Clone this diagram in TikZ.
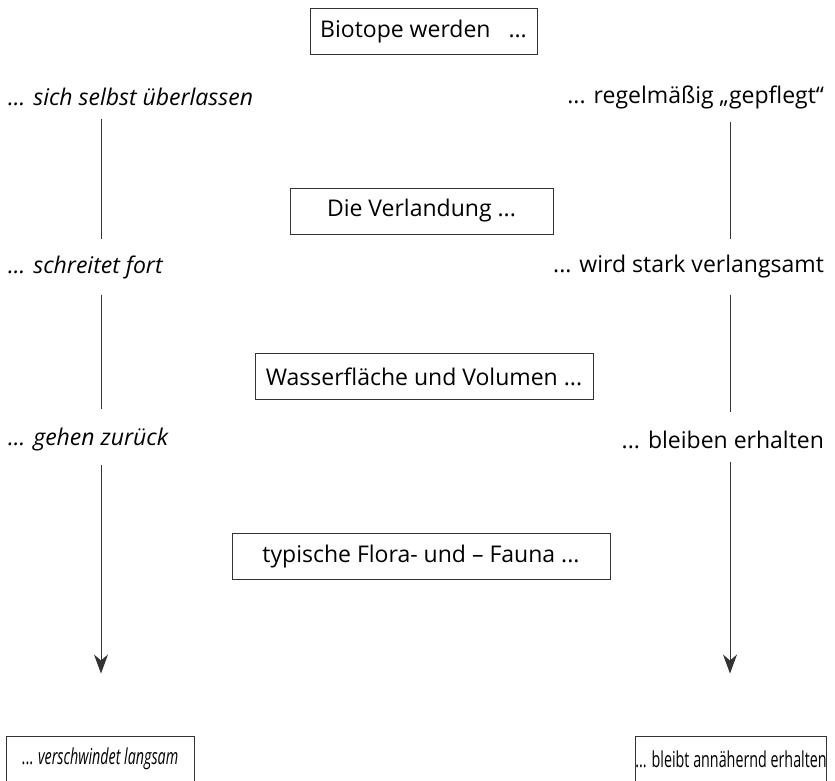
\documentclass[tikz,border=0pt]{standalone}
\usepackage{fontspec}
\setmainfont{Open Sans}
\newfontfamily\schmal[FakeStretch=0.65]{Open Sans}
\usetikzlibrary{arrows.meta}

\begin{document}
\begin{tikzpicture}[x=0.5pt, y=-0.5pt, font=\fontsize{11.5}{14}\selectfont,
    rahmen/.style={draw=black!80, line width=0.5pt, minimum height=23pt, inner xsep=0pt},
    links/.style={anchor=west, font=\fontsize{11.5}{14}\selectfont\itshape},
    rechts/.style={anchor=east},
    linie/.style={draw=black!80, line width=0.5pt},
    pfeil/.style={linie, -{Stealth[length=9.5pt, width=7pt, inset=3pt]}}]

    % Rahmen des ganzen Bildes
    \useasboundingbox (0,0) rectangle (835,781);

    % Achsen der beiden Spalten
    \coordinate (achseL) at (101,0);
    \coordinate (achseR) at (730,0);

    % Die Fragen in der Mitte
    \node[rahmen, minimum width=113.5pt] (biotope) at (423.5,32) {Biotope werden\ \ \ ...};
    \node[rahmen, minimum width=131.5pt] (verlandung) at (421.5,211) {Die Verlandung ...};
    \node[rahmen, minimum width=169pt] (wasser) at (424,376.5) {Wasserfläche und Volumen ...};
    \node[rahmen, minimum width=189pt] (flora) at (421,556.5) {typische Flora- und – Fauna ...};

    % Linke Spalte: sich selbst überlassen
    \node[links] (selbst) at (1,97) {... sich selbst überlassen};
    \node[links] (fort) at (1,267) {... schreitet fort};
    \node[links] (zurueck) at (1,440) {... gehen zurück};
    \node[rahmen, minimum width=94pt, font=\fontsize{11}{14}\schmal] (verschwindet) at (100,759) {... \textit{verschwindet langsam}};

    % Rechte Spalte: regelmäßig gepflegt
    \node[rechts] (gepflegt) at (831,97) {... regelmäßig „gepflegt“};
    \node[rechts] (langsamer) at (831,267) {... wird stark verlangsamt};
    \node[rechts] (erhalten) at (831,440) {... bleiben erhalten};
    \node[rahmen, minimum width=95pt, font=\fontsize{11}{14}\schmal] (bleibt) at (731,759) {... bleibt annähernd erhalten};

    % Verbindungen links
    \draw[linie, shorten <=3pt, shorten >=4.5pt] (selbst.south -| achseL) -- (fort.north -| achseL);
    \draw[linie, shorten <=4.5pt, shorten >=6pt] (fort.south -| achseL) -- (zurueck.north -| achseL);
    \draw[pfeil, shorten <=3pt, shorten >=31pt] (zurueck.south -| achseL) -- (verschwindet.north -| achseL);

    % Verbindungen rechts
    \draw[linie, shorten <=3pt, shorten >=4.5pt] (gepflegt.south -| achseR) -- (langsamer.north -| achseR);
    \draw[linie, shorten <=4.5pt, shorten >=6pt] (langsamer.south -| achseR) -- (erhalten.north -| achseR);
    \draw[pfeil, shorten <=3pt, shorten >=31pt] (erhalten.south -| achseR) -- (bleibt.north -| achseR);

\end{tikzpicture}
\end{document}
